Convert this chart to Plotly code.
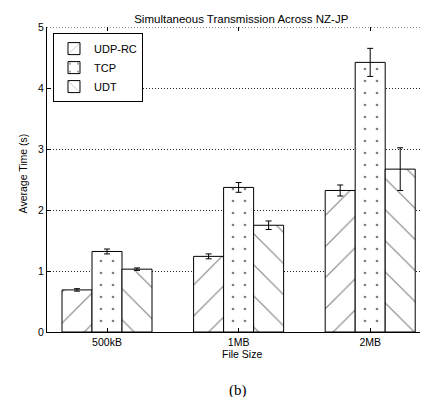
import plotly.graph_objects as go

categories = ["500kB", "1MB", "2MB"]
x_pos = [1, 2, 3]
series_names = ["UDP-RC", "TCP", "UDT"]
udp_rc = [0.69, 1.24, 2.32]
udp_rc_err = [0.02, 0.04, 0.09]
tcp = [1.32, 2.37, 4.42]
tcp_err = [0.04, 0.08, 0.23]
udt = [1.03, 1.75, 2.67]
udt_err = [0.02, 0.07, 0.35]
y_ticks = [0, 1, 2, 3, 4, 5]

FONT = "Liberation Sans, Arial, Helvetica, sans-serif"

patterns = [
    dict(shape="/", size=22, solidity=0.05, fgcolor="black", bgcolor="white"),
    dict(shape=".", size=12, solidity=0.04, fgcolor="black", bgcolor="white"),
    dict(shape="\\", size=22, solidity=0.05, fgcolor="black", bgcolor="white"),
]
values = [udp_rc, tcp, udt]
errors = [udp_rc_err, tcp_err, udt_err]

fig = go.Figure()
for name, vals, errs, pat in zip(series_names, values, errors, patterns):
    fig.add_trace(go.Bar(
        x=x_pos, y=vals, name=name,
        marker=dict(color="white", line=dict(color="black", width=1), pattern=pat),
        error_y=dict(type="data", array=errs, color="black", thickness=1, width=3),
    ))

fig.update_layout(
    width=428, height=397,
    margin=dict(l=39, r=0, t=19, b=73),
    paper_bgcolor="white", plot_bgcolor="white",
    barmode="group", bargap=0.316, bargroupgap=0,
    font=dict(family=FONT, size=10, color="black"),
    title=dict(text="Simultaneous Transmission Across NZ-JP", x=0.545, xanchor="center",
               y=0.972, yanchor="middle", yref="container",
               font=dict(family=FONT, size=11.5, color="black")),
    showlegend=True,
    legend=dict(x=0.0154, y=0.98, xanchor="left", yanchor="top",
                bordercolor="black", borderwidth=1, bgcolor="white",
                font=dict(family=FONT, size=11), tracegroupgap=0),
    xaxis=dict(range=[0.544, 3.5], tickvals=x_pos, ticktext=categories,
               showline=True, linecolor="black", linewidth=1,
               ticks="inside", ticklen=4, tickcolor="black",
               showgrid=False, zeroline=False, tickfont=dict(size=10.5)),
    yaxis=dict(range=[0, 5], tickvals=y_ticks, showline=True, linecolor="black", linewidth=1,
               ticks="inside", ticklen=4, tickcolor="black",
               showgrid=True, gridcolor="#222222", griddash="1px,2px", gridwidth=1,
               zeroline=False, tickfont=dict(size=10.5)),
    xaxis2=dict(range=[0.544, 3.5], tickvals=x_pos, ticktext=["", "", ""],
                overlaying="x", side="top", ticks="inside", ticklen=4, tickcolor="black",
                showgrid=False, showline=False, zeroline=False),
)
# invisible trace to activate top axis ticks
fig.add_trace(go.Scatter(x=[1], y=[0], xaxis="x2", mode="markers",
                         marker=dict(opacity=0), showlegend=False, hoverinfo="skip"))

# dotted top border
fig.add_shape(type="line", xref="paper", yref="y", x0=0, x1=1, y0=5, y1=5,
              line=dict(color="#222222", width=1, dash="1px,2px"))

fig.add_annotation(text="File Size", xref="paper", yref="paper", x=0.5, y=-(346 - 324) / 305,
                   showarrow=False, font=dict(family=FONT, size=10.5),
                   xanchor="center", yanchor="middle")
fig.add_annotation(text="Average Time (s)", xref="paper", yref="paper", x=-24/389, y=0.52,
                   textangle=-90, showarrow=False, font=dict(family=FONT, size=10.5),
                   xanchor="center", yanchor="middle")
fig.add_annotation(text="(b)", xref="paper", yref="paper", x=(230-39)/389, y=-(382-324)/305,
                   showarrow=False, font=dict(family="Liberation Serif, Times New Roman, serif", size=15),
                   xanchor="center", yanchor="middle")

fig.write_html("out.html")
